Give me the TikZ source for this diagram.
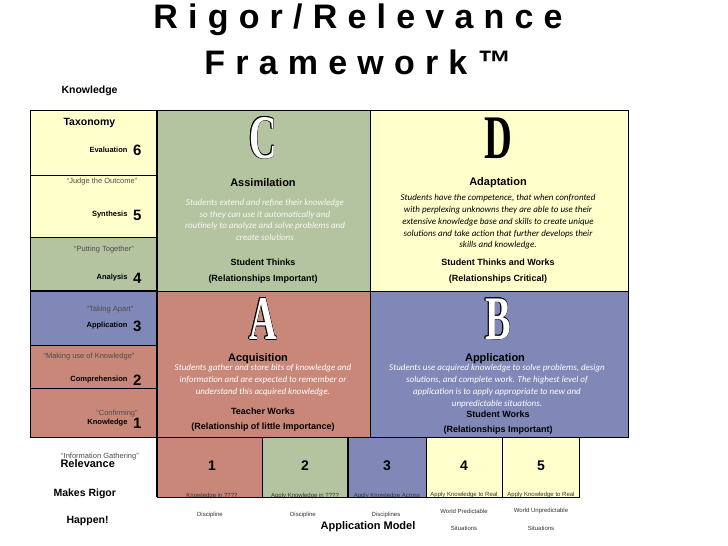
\documentclass[tikz,border=0pt]{standalone}
\usepackage{fontspec}
\setmainfont{Liberation Sans}
\newfontfamily\calfont{Carlito}
\newfontfamily\serfont{Liberation Serif}
\definecolor{pk}{HTML}{C9877A}
\definecolor{gr}{HTML}{B4C4A0}
\definecolor{bl}{HTML}{8088B8}
\definecolor{yl}{HTML}{FFFFCC}
\newcommand{\outl}[3]{%
  \foreach \dx/\dy in {-0.7/0,0.7/0,0/-0.7,0/0.7,-0.5/-0.5,0.5/0.5,-0.5/0.5,0.5/-0.5}
    \node[big,text=black] at ($(#2)+(\dx,\dy)$) {#3};
  \node[big,text=white] (#1) at (#2) {#3};}
\usetikzlibrary{calc}
\begin{document}
\begin{tikzpicture}[x=1pt,y=-1pt,
  cell/.style={draw=black,line width=0.8pt},
  lab/.style={font=\fontsize{7.5}{8}\selectfont\bfseries,anchor=east},
  num/.style={font=\fontsize{15}{15}\selectfont\bfseries,anchor=west,inner sep=1pt},
  quote/.style={font=\fontsize{7.5}{8}\selectfont,text=black!70},
  head/.style={font=\fontsize{11}{12}\selectfont\bfseries},
  sub/.style={font=\fontsize{9}{10}\selectfont\bfseries},
  desc/.style={font=\calfont\itshape\fontsize{9}{11.8}\selectfont,align=center},
  big/.style={font=\serfont\bfseries\fontsize{62}{62}\selectfont,xscale=0.62},
  bnum/.style={font=\fontsize{14}{14}\selectfont\bfseries},
  tiny/.style={font=\fontsize{6}{6}\selectfont,text=black!80}]
\useasboundingbox (0,0) rectangle (728,546);
\fill[white] (0,0) rectangle (728,546);
% left column
\fill[yl] (30,110) rectangle (157,237);
\fill[gr] (30,237) rectangle (157,291);
\fill[bl] (30,291) rectangle (157,345);
\fill[pk] (30,345) rectangle (157,437);
\foreach \a/\b in {110/175,175/237,237/291,291/345,345/388,388/437}
  \draw[cell] (30,\a) rectangle (157,\b);
% quadrants
\fill[gr] (157,110) rectangle (370,291);
\fill[yl] (370,110) rectangle (628,291);
\fill[pk] (157,291) rectangle (370,437);
\fill[bl] (370,291) rectangle (628,437);
\draw[cell] (157,110) rectangle (370,291);
\draw[cell] (370,110) rectangle (628,291);
\draw[cell] (157,291) rectangle (370,437);
\draw[cell] (370,291) rectangle (628,437);
\draw[line width=1.5pt] (157,110) -- (157,497);
\draw[line width=1.5pt] (30,291) -- (157,291);
% bottom row
\fill[pk] (157,437) rectangle (262,497);
\fill[gr] (262,437) rectangle (348,497);
\fill[bl] (348,437) rectangle (426,497);
\fill[yl] (426,437) rectangle (579,497);
\foreach \a/\b in {157/262,262/348,348/426,426/502,502/579}
  \draw[cell] (\a,437) rectangle (\b,497);
\draw[line width=2pt] (348,437) -- (348,497);
% title
\node[font=\fontsize{34}{34}\selectfont\bfseries\addfontfeature{LetterSpace=30}] (t1) at (358,20) {Rigor/Relevance};
\node[font=\fontsize{34}{34}\selectfont\bfseries\addfontfeature{LetterSpace=30}] (t2) at (358,62) {Framework™};
% left labels
\node[font=\fontsize{10.5}{11}\selectfont\bfseries,anchor=west] (kn) at (58,91) {Knowledge};
\node[font=\fontsize{10.5}{11}\selectfont\bfseries,anchor=west] (tx) at (60,123) {Taxonomy};
\node[lab] (l6) at (131,150) {Evaluation}; \node[num] (n6) at (132,150) {6};
\node[quote] (q6) at (102,182) {“Judge the Outcome”};
\node[lab] (l5) at (131,215) {Synthesis}; \node[num] (n5) at (132,215) {5};
\node[quote] (q5) at (104,250) {“Putting Together”};
\node[lab] (l4) at (131,278) {Analysis}; \node[num] (n4) at (132,278) {4};
\node[quote] (q4) at (110,310) {“Taking Apart”};
\node[lab] (l3) at (131,326) {Application}; \node[num] (n3) at (132,326) {3};
\node[quote] (q3) at (89,357) {“Making use of Knowledge”};
\node[lab] (l2) at (131,380) {Comprehension}; \node[num] (n2) at (132,380) {2};
\node[quote] (q2) at (117,414) {“Confirming”};
\node[lab] (l1) at (131,423) {Knowledge}; \node[num] (n1) at (132,423) {1};
\node[quote] (q1) at (100,457) {“Information Gathering”};
\node[font=\fontsize{11}{11}\selectfont\bfseries,anchor=west] (rel) at (57,464) {Relevance};
\node[font=\fontsize{10.5}{11}\selectfont\bfseries,anchor=west] (mr) at (50,494) {Makes Rigor};
\node[font=\fontsize{10.5}{11}\selectfont\bfseries,anchor=west] (hp) at (63,521) {Happen!};
% C
\outl{C}{263,138}{C}
\node[head] (cas) at (263,183) {Assimilation};
\node[desc,text=white!90!gr] (cd) at (265,220) {Students extend and refine their knowledge\\so they can use it automatically and\\routinely to analyze and solve problems and\\create solutions};
\node[sub] (cs) at (263,262) {Student Thinks};
\node[sub] (cr) at (263,279) {(Relationships Important)};
% D
\node[big] (D) at (498,138) {D};
\node[head] (dad) at (498,183) {Adaptation};
\node[desc] (dd) at (498,222) {Students have the competence, that when confronted\\with perplexing unknowns they are able to use their\\extensive knowledge base and skills to create unique\\solutions and take action that further develops their\\skills and knowledge.};
\node[sub] (ds) at (498,262) {Student Thinks and Works};
\node[sub] (dr) at (498,279) {(Relationships Critical)};
% A
\outl{A}{263,319}{A}
\node[head] (aac) at (258,359) {Acquisition};
\node[desc,text=white] (ad) at (263,380) {Students gather and store bits of knowledge and\\information and are expected to remember or\\understand this acquired knowledge.};
\node[sub] (as) at (263,411) {Teacher Works};
\node[sub] (ar) at (263,427) {(Relationship of little Importance)};
% B
\outl{B}{498,319}{B}
\node[head] (bap) at (495,359) {Application};
\node[desc,text=white] (bd) at (497,386) {Students use acquired knowledge to solve problems, design\\solutions, and complete work.  The highest level of\\application is to apply appropriate to new and\\unpredictable situations.};
\node[sub] (bs) at (498,414) {Student Works};
\node[sub] (br) at (498,430) {(Relationships Important)};
% bottom
\node[bnum] (b1) at (212,466) {1};
\node[bnum] (b2) at (305,466) {2};
\node[bnum] (b3) at (387,466) {3};
\node[bnum] (b4) at (464,466) {4};
\node[bnum] (b5) at (541,466) {5};
\node[tiny] (k1) at (212,496) {Knowledge in ????};
\node[tiny] (k1b) at (210,515) {Discipline};
\node[tiny] (k2) at (305,496) {Apply Knowledge in ????};
\node[tiny] (k2b) at (303,515) {Discipline};
\node[tiny] (k3) at (387,496) {Apply Knowledge Across};
\node[tiny] (k3b) at (386,515) {Disciplines};
\node[tiny] (k4) at (464,495) {Apply Knowledge to Real};
\node[tiny] (k4b) at (464,511) {World Predictable};
\node[tiny] (k4c) at (464,528) {Situations};
\node[tiny] (k5) at (541,495) {Apply Knowledge to Real};
\node[tiny] (k5b) at (541,511) {World Unpredictable};
\node[tiny] (k5c) at (541,528) {Situations};
\node[font=\fontsize{11}{11}\selectfont\bfseries] (am) at (368,527) {Application Model};
\end{tikzpicture}
\end{document}
